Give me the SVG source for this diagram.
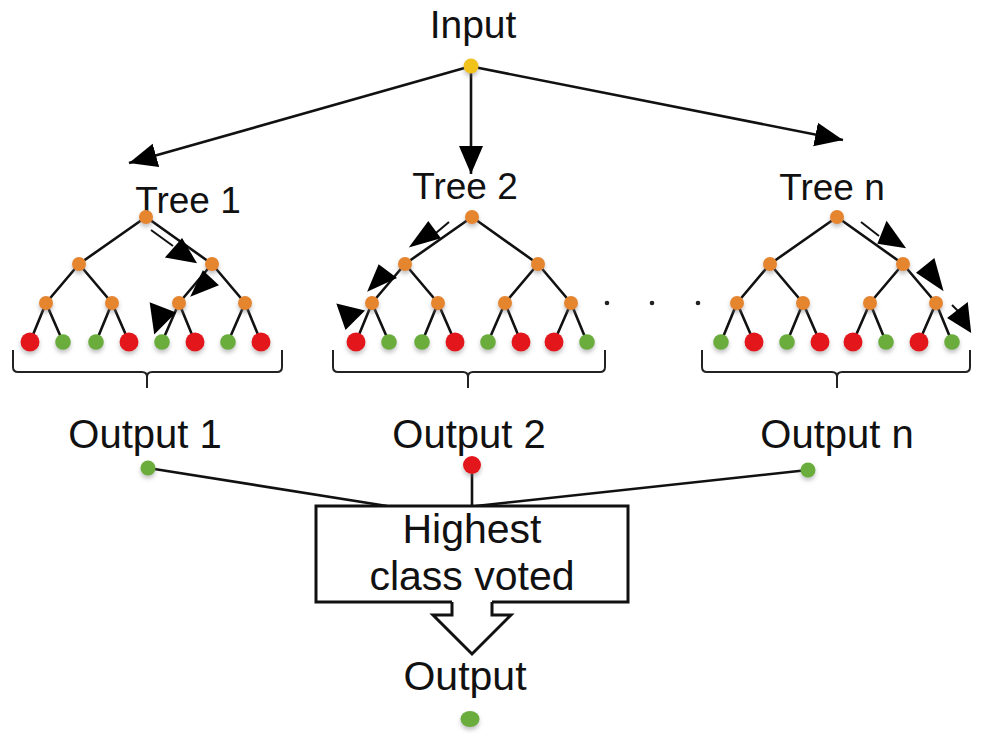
<svg xmlns="http://www.w3.org/2000/svg" xmlns:xlink="http://www.w3.org/1999/xlink" width="981" height="738" viewBox="0 0 981 738">
  <style>
    .lbl { font-family: "Liberation Sans", Arial, Helvetica, sans-serif; fill: #111; text-anchor: middle; }
    .edge { stroke: #111; stroke-width: 2.6; fill: none; stroke-linecap: round; }
    .link { stroke: #111; stroke-width: 2.6; fill: none; }
    .brace { stroke: #222; stroke-width: 2; fill: none; }
    .split { fill: #e5852f; filter: url(#soft); }
    .red { fill: #e3161d; filter: url(#soft); }
    .green { fill: #6aad3c; filter: url(#soft); }
    .gold { fill: #f2c21c; filter: url(#soft); }
    .path-arrow { fill: #000; }
    .path-tail { stroke: #111; stroke-width: 2; }
    .dot { fill: #222; }
  </style>
  <defs>
    <filter id="soft" x="-100%" y="-100%" width="300%" height="350%">
      <feDropShadow dx="0" dy="3" stdDeviation="2.2" flood-color="#777" flood-opacity="0.45"/>
    </filter>
    <marker id="head" markerUnits="userSpaceOnUse" markerWidth="30" markerHeight="26" refX="28" refY="13" orient="auto">
      <path d="M0,1 L28,13 L0,25 Z" fill="#000"/>
    </marker>
    <!-- reusable binary tree: 3 levels of splits, 8 leaves; origin at root -->
    <g id="tree-edges">
      <path class="edge" d="M0,0 L-67,47 M0,0 L66,47
        M-67,47 L-100,86 M-67,47 L-34,86 M66,47 L33,86 M66,47 L99,86
        M-100,86 L-116,125 M-100,86 L-83,125 M-34,86 L-50,125 M-34,86 L-17,125
        M33,86 L16,125 M33,86 L49,125 M99,86 L82,125 M99,86 L115,125"/>
    </g>
    <g id="tree-splits">
      <circle class="split" cx="0" cy="0" r="7"/>
      <circle class="split" cx="-67" cy="47" r="7"/>
      <circle class="split" cx="66" cy="47" r="7"/>
      <circle class="split" cx="-100" cy="86" r="7"/>
      <circle class="split" cx="-34" cy="86" r="7"/>
      <circle class="split" cx="33" cy="86" r="7"/>
      <circle class="split" cx="99" cy="86" r="7"/>
    </g>
    <circle id="leaf-red" class="red" r="9.5"/>
    <circle id="leaf-green" class="green" r="7.8"/>
  </defs>

  <rect width="981" height="738" fill="#fff"/>

  <!-- Connectors -->
  <g id="connectors">
    <line class="link" x1="468" y1="67" x2="129" y2="163" marker-end="url(#head)"/>
    <line class="link" x1="471" y1="68" x2="471" y2="174" marker-end="url(#head)"/>
    <line class="link" x1="474" y1="67" x2="843" y2="140" marker-end="url(#head)"/>
    <line class="link" x1="148" y1="468" x2="387" y2="506"/>
    <line class="link" x1="472" y1="466" x2="472" y2="506"/>
    <line class="link" x1="808" y1="470" x2="476" y2="506"/>
  </g>

  <!-- Input -->
  <g id="input">
    <text class="lbl" x="473" y="38" font-size="39">Input</text>
    <circle class="gold" cx="471" cy="66" r="7.5"/>
  </g>

  <!-- Tree 1 -->
  <g id="tree-1">
    <text class="lbl" x="188" y="213" font-size="37">Tree 1</text>
    <use xlink:href="#tree-edges" x="146" y="217"/>
    <use xlink:href="#tree-splits" x="146" y="217"/>
    <use xlink:href="#leaf-red" x="30" y="342"/>
    <use xlink:href="#leaf-green" x="63" y="342"/>
    <use xlink:href="#leaf-green" x="96" y="342"/>
    <use xlink:href="#leaf-red" x="129" y="342"/>
    <use xlink:href="#leaf-green" x="162" y="342"/>
    <use xlink:href="#leaf-red" x="195" y="342"/>
    <use xlink:href="#leaf-green" x="228" y="342"/>
    <use xlink:href="#leaf-red" x="261" y="342"/>
    <line class="path-tail" x1="151" y1="230" x2="173" y2="246"/>
    <polygon class="path-arrow" points="167,257 182,240 195,262" transform="matrix(1.15,0,0,1.15,-27.2,-38)"/>
    <polygon class="path-arrow" points="203,272 217,285 192,295" transform="matrix(1.15,0,0,1.15,-30.6,-42.6)"/>
    <polygon class="path-arrow" points="151,304 155,332 174,313" transform="matrix(1.15,0,0,1.15,-24,-47.4)"/>
    <path class="brace" d="M13,350 L13,367 Q13,372 18,372 L142,372 Q147,372 147,377 L147,388 M147,377 Q147,372 152,372 L277,372 Q282,372 282,367 L282,350"/>
  </g>

  <!-- Tree 2 -->
  <g id="tree-2">
    <text class="lbl" x="465" y="199" font-size="37">Tree 2</text>
    <use xlink:href="#tree-edges" x="472" y="217"/>
    <use xlink:href="#tree-splits" x="472" y="217"/>
    <use xlink:href="#leaf-red" x="356" y="342"/>
    <use xlink:href="#leaf-green" x="389" y="342"/>
    <use xlink:href="#leaf-green" x="422" y="342"/>
    <use xlink:href="#leaf-red" x="455" y="342"/>
    <use xlink:href="#leaf-green" x="488" y="342"/>
    <use xlink:href="#leaf-red" x="521" y="342"/>
    <use xlink:href="#leaf-red" x="554" y="342"/>
    <use xlink:href="#leaf-green" x="587" y="342"/>
    <line class="path-tail" x1="449" y1="222" x2="430" y2="238"/>
    <polygon class="path-arrow" points="411,246 428,223 439,238" transform="matrix(1.15,0,0,1.15,-63.9,-35.4)"/>
    <polygon class="path-arrow" points="369,290 379,266 395,278" transform="matrix(1.15,0,0,1.15,-57.2,-41.7)"/>
    <polygon class="path-arrow" points="338,305 363,311 346,328" transform="matrix(1.15,0,0,1.15,-52.4,-47.2)"/>
    <path class="brace" d="M333,350 L333,367 Q333,372 338,372 L463,372 Q468,372 468,377 L468,388 M468,377 Q468,372 473,372 L600,372 Q605,372 605,367 L605,350"/>
  </g>

  <!-- ellipsis between trees -->
  <g id="ellipsis">
    <circle class="dot" cx="607" cy="303" r="2.3"/>
    <circle class="dot" cx="652" cy="303" r="2.3"/>
    <circle class="dot" cx="698" cy="303" r="2.3"/>
  </g>

  <!-- Tree n -->
  <g id="tree-n">
    <text class="lbl" x="832" y="200" font-size="37">Tree n</text>
    <use xlink:href="#tree-edges" x="837" y="217"/>
    <use xlink:href="#tree-splits" x="837" y="217"/>
    <use xlink:href="#leaf-green" x="721" y="342"/>
    <use xlink:href="#leaf-red" x="754" y="342"/>
    <use xlink:href="#leaf-green" x="787" y="342"/>
    <use xlink:href="#leaf-red" x="820" y="342"/>
    <use xlink:href="#leaf-red" x="853" y="342"/>
    <use xlink:href="#leaf-green" x="886" y="342"/>
    <use xlink:href="#leaf-red" x="919" y="342"/>
    <use xlink:href="#leaf-green" x="952" y="342"/>
    <line class="path-tail" x1="861" y1="222" x2="879" y2="236"/>
    <polygon class="path-arrow" points="879,243 887,223 904,247" transform="matrix(1.15,0,0,1.15,-133.5,-35.7)"/>
    <polygon class="path-arrow" points="918,273 934,260 942,289" transform="matrix(1.15,0,0,1.15,-139.7,-41.1)"/>
    <line class="path-tail" x1="952" y1="305" x2="958" y2="311"/>
    <polygon class="path-arrow" points="949,318 967,304 970,331" transform="matrix(1.15,0,0,1.15,-144.3,-47.7)"/>
    <path class="brace" d="M702,350 L702,367 Q702,372 707,372 L832,372 Q837,372 837,377 L837,388 M837,377 Q837,372 842,372 L965,372 Q970,372 970,367 L970,350"/>
  </g>

  <!-- Per-tree outputs -->
  <g id="output-1">
    <text class="lbl" x="145" y="448" font-size="40">Output 1</text>
    <circle class="green" cx="148" cy="468" r="7.5"/>
  </g>
  <g id="output-2">
    <text class="lbl" x="469" y="448" font-size="40">Output 2</text>
    <circle class="red" cx="472" cy="465" r="9"/>
  </g>
  <g id="output-n">
    <text class="lbl" x="837" y="448" font-size="40">Output n</text>
    <circle class="green" cx="808" cy="470" r="7.5"/>
  </g>

  <!-- Voting box with hollow block arrow -->
  <g id="vote">
    <path d="M452,602 L316,602 L316,506 L628,506 L628,602 L492,602" fill="#fff" stroke="#111" stroke-width="3"/>
    <polygon points="453,600 453,615 434,615 472,653 510,615 491,615 491,600" fill="#fff"/>
    <polyline points="452,602 452,615 433,615 472,654 511,615 492,615 492,602" fill="none" stroke="#111" stroke-width="3" stroke-linejoin="miter"/>
    <text class="lbl" x="472" y="543" font-size="41">Highest</text>
    <text class="lbl" x="472" y="590" font-size="41">class voted</text>
  </g>

  <!-- Final output -->
  <g id="output-final">
    <text class="lbl" x="465" y="690" font-size="41">Output</text>
    <ellipse class="green" cx="470" cy="719" rx="9.5" ry="8"/>
  </g>
</svg>
